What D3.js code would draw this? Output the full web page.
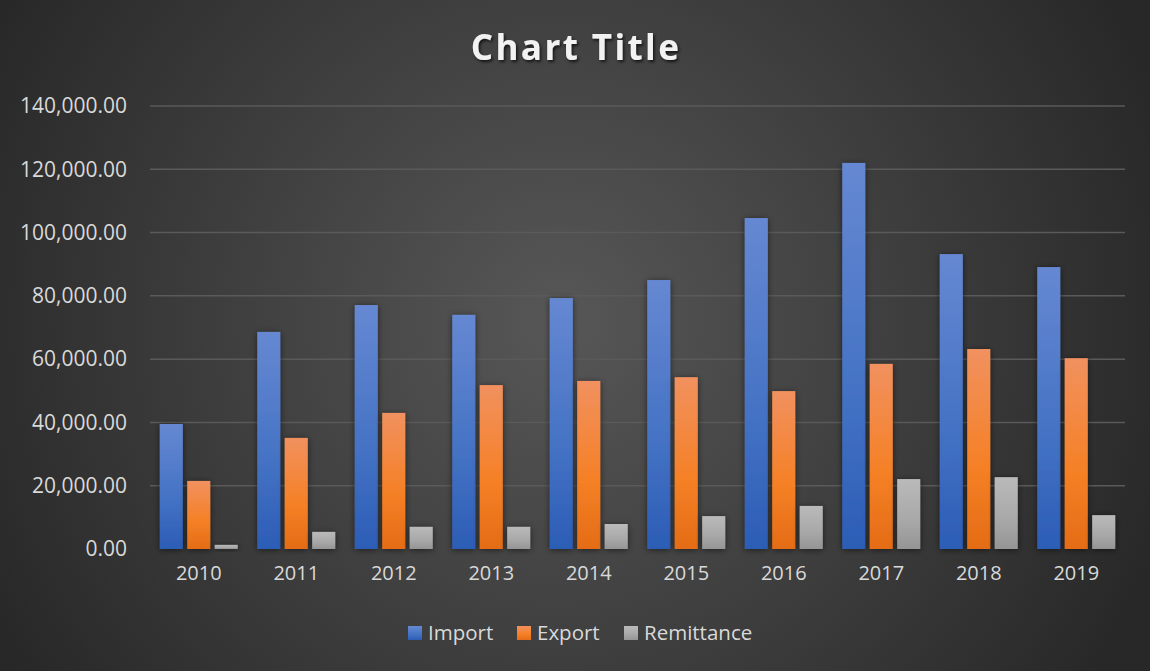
<!DOCTYPE html>
<html>
<head>
<meta charset="utf-8">
<script src="https://cdnjs.cloudflare.com/ajax/libs/d3/7.8.5/d3.min.js"></script>
<style>
    body { margin: 0; background: #2b2b2b; }
    text { font-family: "Open Sans", sans-serif; }
</style>
</head>
<body>
<script>
//chart data
var years = ["2010", "2011", "2012", "2013", "2014", "2015", "2016", "2017", "2018", "2019"];
var importVals = [39500, 68600, 77100, 74000, 79300, 85000, 104600, 122000, 93200, 89100];
var exportVals = [21500, 35100, 43000, 51800, 53100, 54300, 49900, 58500, 63200, 60300];
var remittanceVals = [1300, 5400, 7000, 7000, 7900, 10400, 13600, 22100, 22700, 10700];
var seriesNames = ["Import", "Export", "Remittance"];
var yTicks = [0, 20000, 40000, 60000, 80000, 100000, 120000, 140000];

window.onload = function(){
    var w = 1150, h = 671;
    var svg = d3.select("body")
        .append("svg")
        .attr("width", w)
        .attr("height", h);

    var defs = svg.append("defs");

//background radial gradient
    var bg = defs.append("radialGradient")
        .attr("id", "bg")
        .attr("gradientUnits", "userSpaceOnUse")
        .attr("cx", 560).attr("cy", 320).attr("r", 640);
    bg.append("stop").attr("offset", "0%").attr("stop-color", "#575757");
    bg.append("stop").attr("offset", "100%").attr("stop-color", "#282828");

//bar gradients
    var grads = [
        ["g0", "#6688d2", "#4472c4", "#2c5db6"],
        ["g1", "#f1915f", "#f58025", "#e46c16"],
        ["g2", "#bababa", "#a8a8a8", "#959595"]
    ];
    grads.forEach(function(g){
        var lg = defs.append("linearGradient")
            .attr("id", g[0])
            .attr("x1", 0).attr("y1", 0).attr("x2", 0).attr("y2", 1);
        lg.append("stop").attr("offset", "0%").attr("stop-color", g[1]);
        lg.append("stop").attr("offset", "60%").attr("stop-color", g[2]);
        lg.append("stop").attr("offset", "100%").attr("stop-color", g[3]);
    });

    var shadow = defs.append("filter")
        .attr("id", "shadow")
        .attr("x", "-50%").attr("y", "-50%")
        .attr("width", "200%").attr("height", "200%");
    shadow.append("feDropShadow")
        .attr("dx", 0).attr("dy", 1)
        .attr("stdDeviation", 3)
        .attr("flood-color", "#000")
        .attr("flood-opacity", 0.55);

    var tshadow = defs.append("filter").attr("id", "tshadow");
    tshadow.append("feDropShadow")
        .attr("dx", 1.5).attr("dy", 2)
        .attr("stdDeviation", 1.5)
        .attr("flood-color", "#000")
        .attr("flood-opacity", 0.7);

    svg.append("rect")
        .attr("width", w)
        .attr("height", h)
        .style("fill", "url(#bg)");

//scales
    var x = d3.scaleBand()
        .domain(years)
        .range([150, 1125])
        .paddingInner(0.2)
        .paddingOuter(0.1);

    var x1 = d3.scaleBand()
        .domain(seriesNames)
        .range([0, x.bandwidth()])
        .paddingInner(0.16);

    var y = d3.scaleLinear()
        .domain([0, 140000])
        .range([549, 106]);

//gridlines
    svg.append("g")
        .selectAll("line")
        .data(yTicks.slice(1))
        .enter()
        .append("line")
        .attr("x1", 150)
        .attr("x2", 1125)
        .attr("y1", function(d){ return y(d); })
        .attr("y2", function(d){ return y(d); })
        .style("stroke", "#5a5a5a")
        .style("stroke-width", 1.5);

//y axis
    var yAxis = d3.axisLeft(y)
        .tickValues(yTicks)
        .tickSize(0)
        .tickPadding(0)
        .tickFormat(d3.format(",.2f"));

    var yg = svg.append("g")
        .attr("transform", "translate(127, 0)")
        .call(yAxis);
    yg.select(".domain").remove();
    yg.selectAll("text")
        .style("font-size", "21px")
        .style("fill", "#d9d9d9")
        .style("font-family", "'Open Sans', sans-serif");

//bars
    var data = years.map(function(yr, i){
        return [
            {s: 0, name: "Import", year: yr, v: importVals[i]},
            {s: 1, name: "Export", year: yr, v: exportVals[i]},
            {s: 2, name: "Remittance", year: yr, v: remittanceVals[i]}
        ];
    });

    var groups = svg.append("g")
        .selectAll(".group")
        .data(data)
        .enter()
        .append("g")
        .attr("class", "group")
        .attr("transform", function(d, i){
            return "translate(" + x(years[i]) + ",0)";
        });

    groups.selectAll("rect")
        .data(function(d){ return d; })
        .enter()
        .append("rect")
        .attr("x", function(d){ return x1(d.name); })
        .attr("width", x1.bandwidth())
        .attr("y", function(d){ return y(d.v); })
        .attr("height", function(d){ return y(0) - y(d.v); })
        .attr("filter", "url(#shadow)")
        .style("fill", function(d){ return "url(#g" + d.s + ")"; });

//baseline
    svg.append("line")
        .attr("x1", 150)
        .attr("x2", 1125)
        .attr("y1", y(0) + 0.5)
        .attr("y2", y(0) + 0.5)
        .attr("filter", "url(#shadow)")
        .style("stroke", "#c4c4c4")
        .style("stroke-width", 2.5);

//x axis
    var xAxis = d3.axisBottom(x)
        .tickSize(0)
        .tickPadding(0);
    var xg = svg.append("g")
        .attr("transform", "translate(0, 566)")
        .call(xAxis);
    xg.select(".domain").remove();
    xg.selectAll("text")
        .style("font-size", "20px")
        .style("fill", "#d9d9d9")
        .style("font-family", "'Open Sans', sans-serif");

//title
    svg.append("text")
        .attr("x", 576)
        .attr("y", 60)
        .attr("text-anchor", "middle")
        .attr("filter", "url(#tshadow)")
        .style("font-size", "35px")
        .style("font-weight", "bold")
        .style("letter-spacing", "2.4px")
        .style("fill", "#f2f2f2")
        .text("Chart Title");

//legend
    var legendX = [408, 517, 624];
    var legend = svg.selectAll(".legend")
        .data(seriesNames)
        .enter()
        .append("g")
        .attr("class", "legend")
        .attr("transform", function(d, i){
            return "translate(" + legendX[i] + ", 626)";
        });
    legend.append("rect")
        .attr("width", 14)
        .attr("height", 14)
        .style("fill", function(d, i){ return "url(#g" + i + ")"; });
    legend.append("text")
        .attr("x", 20)
        .attr("y", 14)
        .style("font-size", "20.5px")
        .style("fill", "#d9d9d9")
        .text(function(d){ return d; });
};
</script>
</body>
</html>
